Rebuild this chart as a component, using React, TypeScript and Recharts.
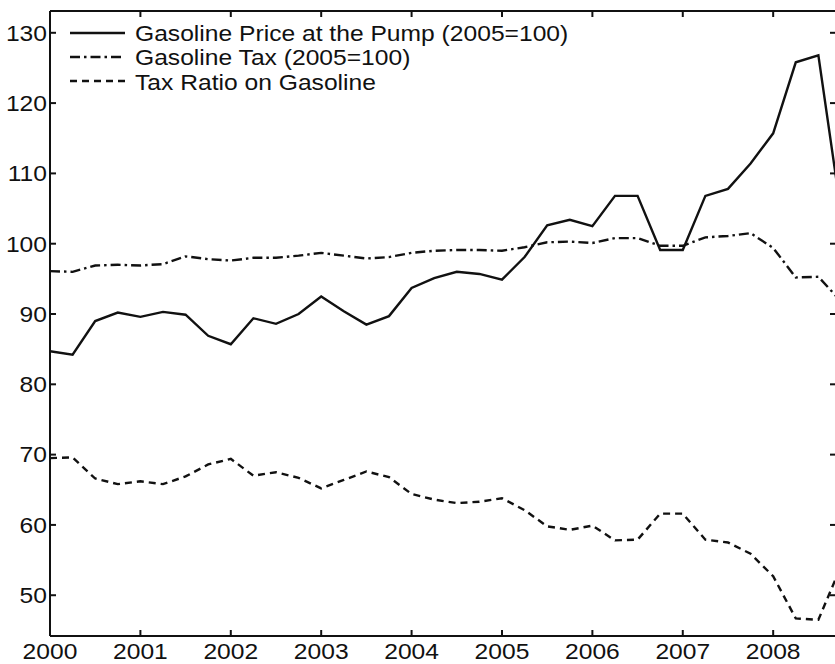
import { LineChart, Line, XAxis, YAxis, Legend } from 'recharts';

// quarterly observations, 2000Q1 .. 2008Q4 (last one runs past the cropped frame)
const QUARTERS = [
  2000, 2000.25, 2000.5, 2000.75,
  2001, 2001.25, 2001.5, 2001.75,
  2002, 2002.25, 2002.5, 2002.75,
  2003, 2003.25, 2003.5, 2003.75,
  2004, 2004.25, 2004.5, 2004.75,
  2005, 2005.25, 2005.5, 2005.75,
  2006, 2006.25, 2006.5, 2006.75,
  2007, 2007.25, 2007.5, 2007.75,
  2008, 2008.25, 2008.5, 2008.75,
];

const PUMP_PRICE = [
  84.7, 84.2, 89.0, 90.2, 89.6, 90.3, 89.9, 86.9, 85.7, 89.4, 88.6, 90.0,
  92.5, 90.4, 88.5, 89.7, 93.7, 95.1, 96.0, 95.7, 94.9, 98.1, 102.6, 103.4,
  102.5, 106.8, 106.8, 99.1, 99.1, 106.8, 107.8, 111.4, 115.7, 125.8, 126.8, 104.5,
];

const GAS_TAX = [
  96.1, 96.0, 96.9, 97.0, 96.9, 97.1, 98.2, 97.8, 97.6, 98.0, 98.0, 98.3,
  98.7, 98.3, 97.9, 98.1, 98.7, 99.0, 99.1, 99.1, 99.0, 99.5, 100.2, 100.3,
  100.1, 100.8, 100.8, 99.7, 99.7, 100.9, 101.1, 101.5, 99.4, 95.2, 95.3, 91.8,
];

const TAX_RATIO = [
  69.5, 69.6, 66.6, 65.8, 66.2, 65.8, 66.9, 68.6, 69.4, 67.0, 67.5, 66.7,
  65.2, 66.4, 67.6, 66.8, 64.4, 63.6, 63.1, 63.3, 63.8, 62.1, 59.8, 59.3,
  59.9, 57.8, 57.9, 61.6, 61.6, 57.9, 57.5, 55.9, 52.7, 46.7, 46.5, 54.1,
];

const YEAR_TICKS = [2000, 2001, 2002, 2003, 2004, 2005, 2006, 2007, 2008];
const VALUE_TICKS = [50, 60, 70, 80, 90, 100, 110, 120, 130];

const SERIES = [
  { key: 'price', name: 'Gasoline Price at the Pump (2005=100)', dash: undefined },
  { key: 'tax', name: 'Gasoline Tax (2005=100)', dash: '10 4 2.5 4' },
  { key: 'ratio', name: 'Tax Ratio on Gasoline', dash: '7 5' },
];

const data = QUARTERS.map((q, i) => ({
  q,
  price: PUMP_PRICE[i],
  tax: GAS_TAX[i],
  ratio: TAX_RATIO[i],
}));

const INK = '#111';
const FONT = '"Liberation Sans", Arial, Helvetica, sans-serif';
const TICK = 6;
// the scanned figure is a bit wider than tall, so text gets stretched sideways
const STRETCH = 1.12;

function Label({ x, y, anchor, children }: any) {
  return (
    <g transform={`translate(${x} ${y}) scale(${STRETCH} 1)`}>
      <text x={0} y={0} textAnchor={anchor} fontSize={22} fontFamily={FONT} fill={INK}>
        {children}
      </text>
    </g>
  );
}

function BottomTick({ x, y, payload }: any) {
  return (
    <g>
      <line x1={x} y1={y} x2={x} y2={y - TICK} stroke={INK} strokeWidth={2} />
      <Label x={x} y={y + 22.5} anchor="middle">{payload.value}</Label>
    </g>
  );
}

function LeftTick({ x, y, payload }: any) {
  return (
    <g>
      <line x1={x} y1={y} x2={x + TICK} y2={y} stroke={INK} strokeWidth={2} />
      <Label x={x - 3} y={y + 7.8} anchor="end">{payload.value}</Label>
    </g>
  );
}

function TopTick({ x, y }: any) {
  return <line x1={x} y1={y} x2={x} y2={y + TICK} stroke={INK} strokeWidth={2} />;
}

function RightTick({ x, y }: any) {
  return <line x1={x} y1={y} x2={x - TICK} y2={y} stroke={INK} strokeWidth={2} />;
}

function LegendBox() {
  return (
    <svg width={620} height={100} style={{ display: 'block' }}>
      {SERIES.map((s, i) => (
        <g key={s.key}>
          <line
            x1={70}
            x2={125}
            y1={33 + 24 * i}
            y2={33 + 24 * i}
            stroke={INK}
            strokeWidth={2.3}
            strokeDasharray={s.dash}
          />
          <Label x={135} y={40.5 + 24.5 * i} anchor="start">{s.name}</Label>
        </g>
      ))}
    </svg>
  );
}

export default function App() {
  return (
    <div
      style={{
        position: 'fixed',
        left: 0,
        top: 0,
        width: 835,
        height: 664,
        overflow: 'hidden',
        background: '#fff',
      }}
    >
      <LineChart width={850} height={664} data={data} margin={{ top: 0, right: 0, bottom: 0, left: 0 }}>
        <XAxis
          dataKey="q"
          type="number"
          domain={[2000, 2008.695]}
          allowDataOverflow
          ticks={YEAR_TICKS}
          interval={0}
          height={28}
          tickSize={0}
          tickMargin={0}
          tickLine={false}
          axisLine={{ stroke: INK, strokeWidth: 2 }}
          tick={<BottomTick />}
        />
        <XAxis
          xAxisId="top"
          orientation="top"
          dataKey="q"
          type="number"
          domain={[2000, 2008.695]}
          allowDataOverflow
          ticks={YEAR_TICKS}
          interval={0}
          height={11}
          tickSize={0}
          tickMargin={0}
          tickLine={false}
          axisLine={{ stroke: INK, strokeWidth: 2 }}
          tick={<TopTick />}
        />
        <YAxis
          type="number"
          domain={[44.2, 133.1]}
          allowDataOverflow
          ticks={VALUE_TICKS}
          interval={0}
          width={50}
          tickSize={0}
          tickMargin={0}
          tickLine={false}
          axisLine={{ stroke: INK, strokeWidth: 2 }}
          tick={<LeftTick />}
        />
        <YAxis
          yAxisId="right"
          orientation="right"
          type="number"
          domain={[44.2, 133.1]}
          allowDataOverflow
          ticks={VALUE_TICKS}
          interval={0}
          width={14}
          tickSize={0}
          tickMargin={0}
          tickLine={false}
          axisLine={{ stroke: INK, strokeWidth: 2 }}
          tick={<RightTick />}
        />
        <Legend
          layout="horizontal"
          verticalAlign="middle"
          align="center"
          wrapperStyle={{ left: 0, top: 0, width: 620, height: 100 }}
          content={() => <LegendBox />}
        />
        {SERIES.map((s) => (
          <Line
            key={s.key}
            dataKey={s.key}
            name={s.name}
            type="linear"
            stroke={INK}
            strokeWidth={2.4}
            strokeDasharray={s.dash}
            dot={false}
            activeDot={false}
            isAnimationActive={false}
          />
        ))}
      </LineChart>
    </div>
  );
}
